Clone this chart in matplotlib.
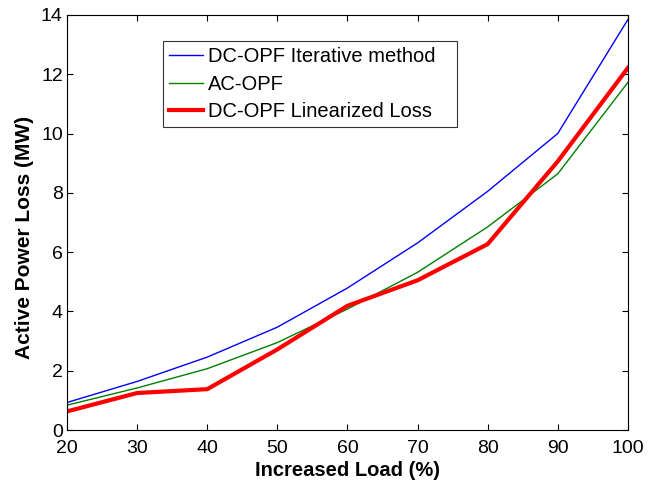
import matplotlib
matplotlib.use("Agg")
import matplotlib.pyplot as plt

plt.rcParams['font.family'] = ['Liberation Sans', 'DejaVu Sans']

# data
load = [20, 30, 40, 50, 60, 70, 80, 90, 100]
dc_iter = [0.93, 1.64, 2.46, 3.47, 4.79, 6.31, 8.05, 10.0, 13.84]
ac_opf = [0.84, 1.42, 2.07, 2.95, 4.08, 5.32, 6.85, 8.64, 11.72]
dc_lin = [0.63, 1.25, 1.38, 2.72, 4.19, 5.05, 6.27, 9.06, 12.21]

fig = plt.figure(figsize=(6.48, 4.8), dpi=100)
ax = fig.add_axes([0.1034, 0.104, 0.8655, 0.865])

ax.plot(load, dc_iter, color='blue', linewidth=1.0, label='DC-OPF Iterative method')
ax.plot(load, ac_opf, color='green', linewidth=1.0, label='AC-OPF')
ax.plot(load, dc_lin, color='red', linewidth=3.0, label='DC-OPF Linearized Loss')

ax.set_xlim(20, 100)
ax.set_ylim(0, 14)
ax.set_xticks(range(20, 101, 10))
ax.set_yticks(range(0, 15, 2))
ax.tick_params(direction='in', top=True, right=True, labelsize=14, length=4, pad=3)
ax.tick_params(axis='x', pad=7)
ax.set_xlabel('Increased Load (%)', fontsize=14.5, fontweight='bold', labelpad=3)
ax.set_ylabel('Active Power Loss (MW)', fontsize=15, fontweight='bold')
ax.yaxis.set_label_coords(-0.058, 0.465)

# legend box stretched to the reference width (mode='expand')
leg = ax.legend(loc='upper left', bbox_to_anchor=(0.171, 0.5, 0.524, 0.436), mode='expand',
                fontsize=14.5, frameon=True, fancybox=False, edgecolor='black',
                handlelength=1.7, handletextpad=0.25, borderpad=0.3, labelspacing=0.4,
                borderaxespad=0)
leg.get_frame().set_linewidth(0.8)

fig.savefig('out.png', dpi=100)
